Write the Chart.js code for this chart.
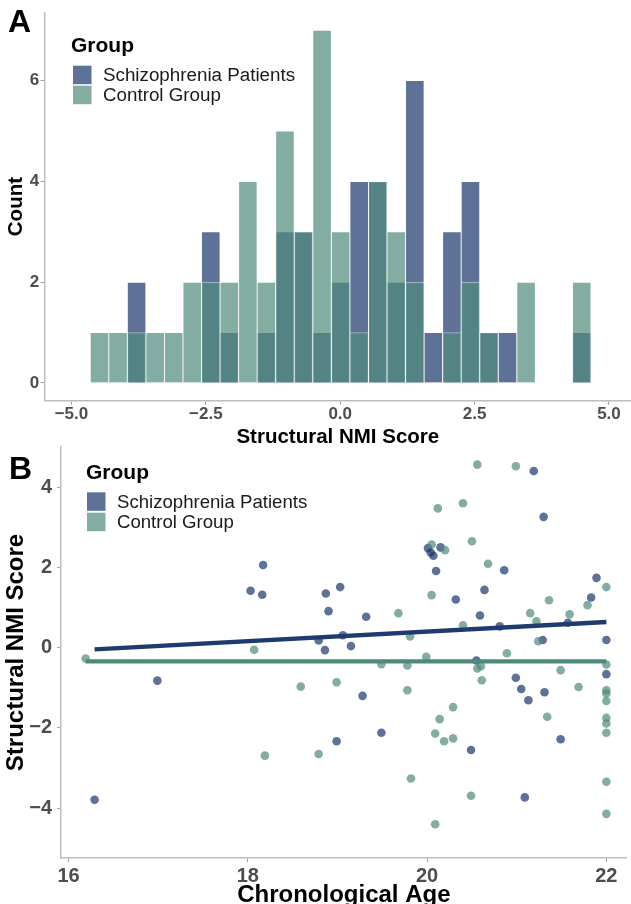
<!DOCTYPE html>
<html>
<head>
<meta charset="utf-8">
<script src="https://cdn.jsdelivr.net/npm/chart.js@4.4.1/dist/chart.umd.min.js"></script>
<style>
  html, body { margin: 0; padding: 0; background: #fff; overflow: hidden; }
  body { width: 631px; height: 904px; position: relative; }
  #panelA { position: absolute; left: 0; top: 0; width: 631px; height: 450px; }
  #panelB { position: absolute; left: 0; top: 430px; width: 631px; height: 480px; }
</style>
</head>
<body>
<div id="panelA"><canvas id="histChart" width="631" height="450"></canvas></div>
<div id="panelB"><canvas id="scatterChart" width="631" height="480"></canvas></div>
<script>
const FONT = '"Liberation Sans", Arial, Helvetica, sans-serif';

const groupNames = ['Schizophrenia Patients', 'Control Group'];

// panel A - histogram of structural NMI score (bin centres, counts per group)
const binCentres = [-4.478, -4.133, -3.788, -3.443, -3.098, -2.753, -2.408, -2.063, -1.718, -1.373,
  -1.028, -0.683, -0.338, 0.008, 0.353, 0.698, 1.043, 1.388, 1.733, 2.078,
  2.423, 2.768, 3.113, 3.458, 3.803, 4.148, 4.493];
const schizoCounts = [0, 0, 2, 0, 0, 0, 3, 1, 0, 1, 3, 3, 1, 2, 4, 4, 2, 6, 1, 3, 4, 1, 1, 0, 0, 0, 1];
const controlCounts = [1, 1, 1, 1, 1, 2, 2, 2, 4, 2, 5, 3, 7, 3, 1, 4, 3, 2, 0, 1, 2, 1, 0, 2, 0, 0, 2];
const scoreTicks = [-5, -2.5, 0, 2.5, 5];
const countTicks = [0, 2, 4, 6];

// panel B - NMI score against chronological age
const schizoAge = [18.17, 18.03, 18.16, 18.87, 19.03, 18.90, 18.79, 19.06, 18.86, 19.15,
  21.19, 21.30, 20.01, 20.15, 20.04, 20.07, 20.10, 20.86, 20.64, 20.32,
  20.59, 19.32, 20.81, 21.57, 21.89, 21.83, 21.29, 22.00, 20.55, 16.99,
  16.29, 18.99, 19.28, 19.49, 20.49, 20.99, 21.05, 21.13, 21.31, 21.49,
  21.09, 22.00];
const schizoScore = [2.06, 1.42, 1.32, 1.35, 1.51, 0.91, 0.18, 0.31, -0.06, 0.04,
  4.40, 3.26, 2.48, 2.50, 2.37, 2.29, 1.91, 1.93, 1.44, 1.20,
  0.80, 0.77, 0.53, 0.62, 1.74, 1.25, 0.19, 0.19, -0.32, -0.82,
  -3.79, -2.33, -1.20, -2.12, -2.55, -0.75, -1.03, -1.31, -1.11, -2.28,
  -3.73, -0.66];
const controlAge = [18.07, 16.19, 20.56, 20.99, 20.12, 20.40, 20.50, 20.05, 20.20, 20.68,
  20.05, 19.68, 20.40, 19.81, 19.99, 20.89, 21.15, 21.22, 21.24, 21.36,
  21.59, 21.79, 22.00, 18.59, 18.99, 18.19, 18.79, 19.49, 19.78, 19.78,
  19.82, 20.29, 20.14, 20.09, 20.19, 20.29, 20.09, 20.49, 20.56, 20.60,
  20.61, 21.49, 21.69, 21.34, 22.00, 22.00, 22.00, 22.00, 22.00, 22.00,
  22.00, 22.00, 22.00];
const controlScore = [-0.05, -0.27, 4.56, 4.52, 3.47, 3.60, 2.65, 2.57, 2.43, 2.09,
  1.31, 0.86, 0.56, 0.28, -0.23, -0.14, 0.86, 0.66, 0.16, 1.18,
  0.83, 1.06, 1.51, -0.97, -0.86, -2.69, -2.65, -0.41, -0.44, -1.06,
  -3.26, -1.48, -1.78, -2.14, -2.33, -2.26, -4.40, -3.69, -0.52, -0.46,
  -0.81, -0.56, -0.98, -1.72, -0.42, -1.06, -1.14, -1.33, -1.75, -1.89,
  -2.12, -3.34, -4.14];
// linear fits (ends of the drawn lines)
const schizoFitAge = [16.29, 22.0];
const schizoFitScore = [-0.04, 0.64];
const controlFitAge = [16.19, 22.0];
const controlFitScore = [-0.34, -0.34];
const ageTicks = [16, 18, 20, 22];
const nmiTicks = [-4, -2, 0, 2, 4];

const fillSchizo = 'rgba(26, 52, 105, 0.7)';
const fillControl = 'rgba(79, 138, 124, 0.7)';
const groupFills = [fillSchizo, fillControl];

const minus = v => String(v).replace('-', '\u2212');
const toPoints = (xs, ys) => xs.map((x, i) => ({ x: x, y: ys[i] }));

// legend + panel letter, drawn inside the plot like ggplot does
const panelDecor = {
  id: 'panelDecor',
  afterDraw(chart, args, o) {
    const ctx = chart.ctx;
    ctx.save();
    ctx.textAlign = 'left';
    ctx.textBaseline = 'middle';
    ctx.fillStyle = '#000';
    ctx.font = 'bold 32px ' + FONT;
    ctx.fillText(o.tag, o.tagX, o.tagY);
    ctx.font = 'bold ' + o.titleSize + 'px ' + FONT;
    ctx.fillText('Group', o.titleX, o.titleY);
    groupNames.forEach((name, i) => {
      const y = o.boxY + i * o.rowH;
      ctx.fillStyle = groupFills[i];
      ctx.fillRect(o.boxX, y, o.box, o.box);
      ctx.fillStyle = '#1a1a1a';
      ctx.font = o.textSize + 'px ' + FONT;
      ctx.fillText(name, o.textX, y + o.box / 2 + 1);
    });
    ctx.restore();
  }
};

const axisGrid = { display: true, offset: false, drawOnChartArea: false, drawTicks: true, tickLength: 4, color: '#a0a0a0', lineWidth: 1 };
const axisBorder = { display: true, color: '#bdbdbd', width: 1.5 };

new Chart(document.getElementById('histChart'), {
  type: 'bar',
  data: {
    datasets: [
      { label: groupNames[0], data: toPoints(binCentres, schizoCounts), backgroundColor: fillSchizo, order: 2 },
      { label: groupNames[1], data: toPoints(binCentres, controlCounts), backgroundColor: fillControl, order: 1 }
    ]
  },
  options: {
    responsive: false,
    animation: false,
    devicePixelRatio: 1,
    layout: { padding: { top: 12.6, right: 0, bottom: 0, left: 0 } },
    datasets: { bar: { grouped: false, barPercentage: 1, categoryPercentage: 1, borderWidth: 0.8, borderColor: 'rgba(255,255,255,0.5)' } },
    plugins: {
      legend: { display: false },
      tooltip: { enabled: false },
      panelDecor: { tag: 'A', tagX: 8, tagY: 23, titleX: 71, titleY: 46, titleSize: 21,
        boxX: 73, boxY: 65.7, box: 18.5, rowH: 20, textX: 103, textSize: 18.8 }
    },
    scales: {
      x: {
        type: 'linear', offset: false, min: -5.5, max: 5.41,
        afterBuildTicks: s => { s.ticks = scoreTicks.map(v => ({ value: v })); },
        afterFit: s => { s.height = 49.4; },
        ticks: { color: '#4d4d4d', padding: 0, font: { family: FONT, size: 17, weight: 'bold' },
          callback: v => minus(v.toFixed(1)), maxRotation: 0 },
        grid: axisGrid, border: axisBorder,
        title: { display: true, text: 'Structural NMI Score', color: '#000',
          font: { family: FONT, size: 20.5, weight: 'bold', lineHeight: 1.2 }, padding: { top: 0, bottom: 0 } }
      },
      y: {
        min: -0.35, max: 7.35,
        afterBuildTicks: s => { s.ticks = countTicks.map(v => ({ value: v })); },
        afterFit: s => { s.width = 44.6; },
        ticks: { color: '#4d4d4d', padding: 1.5, font: { family: FONT, size: 17, weight: 'bold' } },
        grid: axisGrid, border: axisBorder,
        title: { display: true, text: 'Count', color: '#000',
          font: { family: FONT, size: 20.5, weight: 'bold', lineHeight: 1.2 }, padding: { top: 4, bottom: 0 } }
      }
    }
  },
  plugins: [panelDecor]
});

new Chart(document.getElementById('scatterChart'), {
  type: 'scatter',
  data: {
    datasets: [
      { type: 'line', label: 'fit ' + groupNames[0], data: toPoints(schizoFitAge, schizoFitScore),
        borderColor: '#1f3a6e', borderWidth: 4.3, pointRadius: 0, fill: false, order: 0 },
      { type: 'line', label: 'fit ' + groupNames[1], data: toPoints(controlFitAge, controlFitScore),
        borderColor: '#4e8a7b', borderWidth: 4.3, pointRadius: 0, fill: false, order: 1 },
      { label: groupNames[1], data: toPoints(controlAge, controlScore), backgroundColor: fillControl,
        pointRadius: 4.3, borderWidth: 0, order: 2 },
      { label: groupNames[0], data: toPoints(schizoAge, schizoScore), backgroundColor: fillSchizo,
        pointRadius: 4.3, borderWidth: 0, order: 3 }
    ]
  },
  options: {
    responsive: false,
    animation: false,
    devicePixelRatio: 1,
    layout: { padding: { top: 16.7, right: 0, bottom: 0, left: 0 } },
    plugins: {
      legend: { display: false },
      tooltip: { enabled: false },
      panelDecor: { tag: 'B', tagX: 9, tagY: 40, titleX: 86, titleY: 43, titleSize: 21,
        boxX: 87, boxY: 62.3, box: 18.5, rowH: 20.4, textX: 117, textSize: 18.6 }
    },
    scales: {
      x: {
        type: 'linear', min: 15.915, max: 22.227,
        afterBuildTicks: s => { s.ticks = ageTicks.map(v => ({ value: v })); },
        afterFit: s => { s.height = 52; },
        ticks: { color: '#4d4d4d', padding: 2, font: { family: FONT, size: 20, weight: 'bold' }, maxRotation: 0 },
        grid: axisGrid, border: axisBorder,
        title: { display: true, text: 'Chronological Age', color: '#000',
          font: { family: FONT, size: 24, weight: 'bold', lineHeight: 1.2 }, padding: { top: 0, bottom: 0 } }
      },
      y: {
        min: -5.24, max: 5.0,
        afterBuildTicks: s => { s.ticks = nmiTicks.map(v => ({ value: v })); },
        afterFit: s => { s.width = 61; },
        ticks: { color: '#4d4d4d', padding: 5, font: { family: FONT, size: 20, weight: 'bold' },
          callback: v => minus(v) },
        grid: axisGrid, border: axisBorder,
        title: { display: true, text: 'Structural NMI Score', color: '#000',
          font: { family: FONT, size: 24, weight: 'bold', lineHeight: 1.2 }, padding: { top: 1.6, bottom: 0 } }
      }
    }
  },
  plugins: [panelDecor]
});
</script>
</body>
</html>
